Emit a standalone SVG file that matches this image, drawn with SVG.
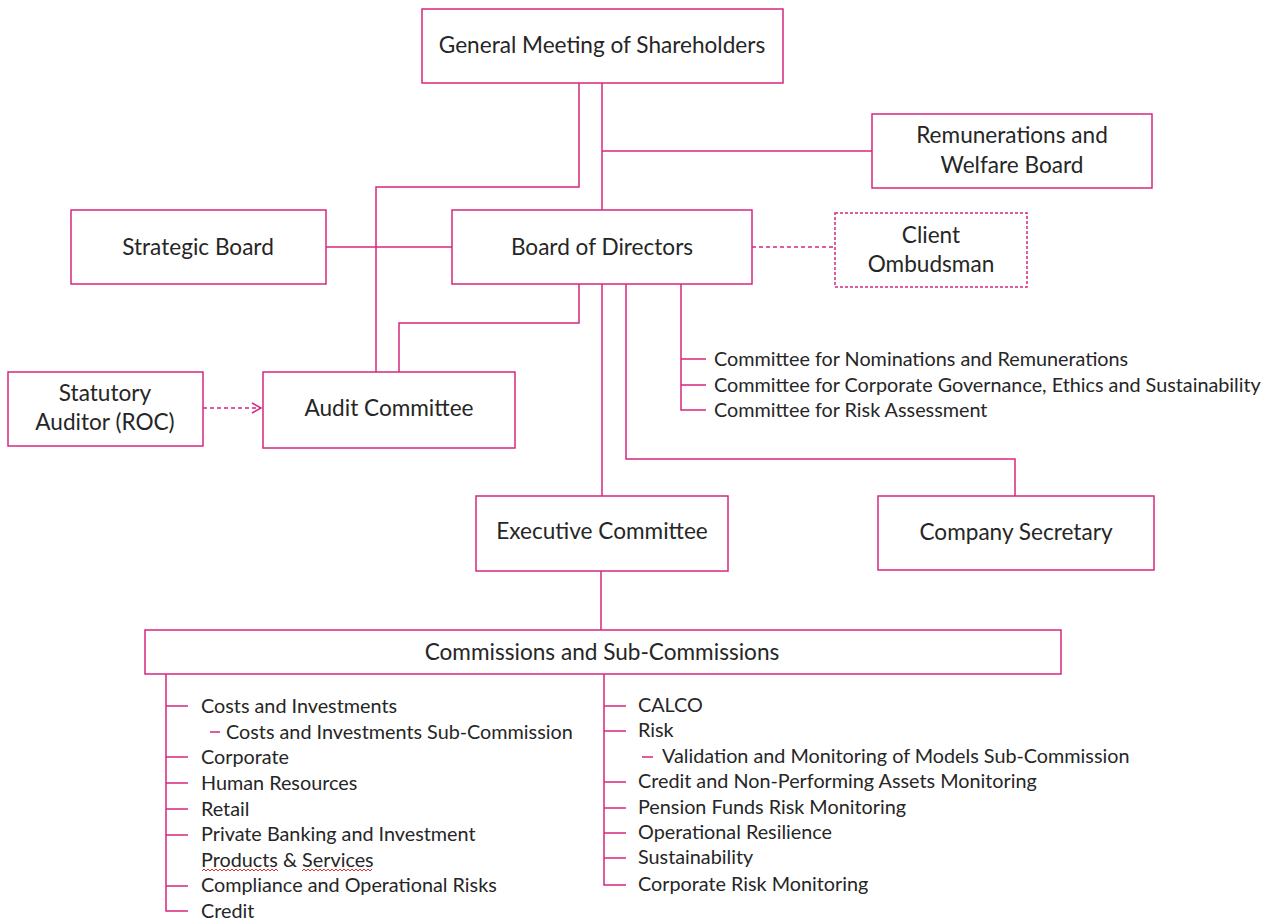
<svg xmlns="http://www.w3.org/2000/svg" width="1274" height="922" viewBox="0 0 1274 922">
<defs>
<style>
.box{fill:#fff;stroke:#d6287e;stroke-width:1.5}
.dash{fill:#fff;stroke:#d6287e;stroke-width:1.5;stroke-dasharray:3 2}
.ln{fill:none;stroke:#d6287e;stroke-width:1.5}
.dl{fill:none;stroke:#d6287e;stroke-width:1.5;stroke-dasharray:4 3}
.bt{font-family:Lato,"Liberation Sans",sans-serif;font-size:22.6px;fill:#262626;text-anchor:middle}
.lt{font-family:Lato,"Liberation Sans",sans-serif;font-size:19.8px;fill:#262626}
.sq{fill:none;stroke:#e03030;stroke-width:1}
</style>
<marker id="arr" markerWidth="12" markerHeight="12" refX="10" refY="6" orient="auto" markerUnits="userSpaceOnUse">
<path d="M1,1 L10,6 L1,11" fill="none" stroke="#d6287e" stroke-width="1.5"/>
</marker>
</defs>
<rect width="1274" height="922" fill="#fff"/>
<g id="connectors">
<path class="ln" d="M579,83 V187 H376 V372"/>
<path class="ln" d="M602,83 V210"/>
<path class="ln" d="M602,151 H872"/>
<path class="ln" d="M326,247 H452"/>
<path class="dl" d="M752,247 H835"/>
<path class="ln" d="M579,284 V323 H399 V372"/>
<path class="ln" d="M602,284 V496"/>
<path class="ln" d="M626,284 V459 H1015 V496"/>
<path class="ln" d="M681,284 V410 H706 M681,359 H706 M681,385 H706"/>
<path class="dl" d="M203,408 H261" marker-end="url(#arr)"/>
<path class="ln" d="M601,571 V630"/>
<path class="ln" d="M166,674 V911 H188 M166,706 H188 M166,757 H188 M166,783 H188 M166,809 H188 M166,835 H188 M166,886 H188"/>
<path class="ln" d="M604,674 V885 H626 M604,706 H626 M604,731 H626 M604,782 H626 M604,808 H626 M604,833 H626 M604,858 H626"/>
<path class="ln" d="M210,732 H220 M642,757 H653"/>
</g>
<g id="general-meeting"><rect class="box" x="422" y="9" width="361" height="74"/><text class="bt" x="602" y="53">General Meeting of Shareholders</text></g>
<g id="remunerations-board"><rect class="box" x="872" y="114" width="280" height="74"/><text class="bt" x="1012" y="143">Remunerations and</text><text class="bt" x="1012" y="173">Welfare Board</text></g>
<g id="strategic-board"><rect class="box" x="71" y="210" width="255" height="74"/><text class="bt" x="198" y="255">Strategic Board</text></g>
<g id="board-of-directors"><rect class="box" x="452" y="210" width="300" height="74"/><text class="bt" x="602" y="255">Board of Directors</text></g>
<g id="client-ombudsman"><rect class="dash" x="835" y="213" width="192" height="74"/><text class="bt" x="931" y="243">Client</text><text class="bt" x="931" y="272">Ombudsman</text></g>
<g id="committees">
<text class="lt" x="714" y="366">Committee for Nominations and Remunerations</text>
<text class="lt" x="714" y="392">Committee for Corporate Governance, Ethics and Sustainability</text>
<text class="lt" x="714" y="417">Committee for Risk Assessment</text>
</g>
<g id="statutory-auditor"><rect class="box" x="8" y="372" width="195" height="74"/><text class="bt" x="105" y="401">Statutory</text><text class="bt" x="105" y="430">Auditor (ROC)</text></g>
<g id="audit-committee"><rect class="box" x="263" y="372" width="252" height="76"/><text class="bt" x="389" y="416">Audit Committee</text></g>
<g id="executive-committee"><rect class="box" x="476" y="496" width="252" height="75"/><text class="bt" x="602" y="539">Executive Committee</text></g>
<g id="company-secretary"><rect class="box" x="878" y="496" width="276" height="74"/><text class="bt" x="1016" y="540">Company Secretary</text></g>
<g id="commissions"><rect class="box" x="145" y="630" width="916" height="44"/><text class="bt" x="602" y="660">Commissions and Sub-Commissions</text></g>
<g id="commissions-left">
<text class="lt" x="201" y="713">Costs and Investments</text>
<text class="lt" x="226" y="739">Costs and Investments Sub-Commission</text>
<text class="lt" x="201" y="764">Corporate</text>
<text class="lt" x="201" y="790">Human Resources</text>
<text class="lt" x="201" y="816">Retail</text>
<text class="lt" x="201" y="841">Private Banking and Investment</text>
<text class="lt" x="201" y="867">Products &amp; Services</text>
<text class="lt" x="201" y="892">Compliance and Operational Risks</text>
<text class="lt" x="201" y="918">Credit</text>
<path class="sq" d="M202,871 l2,-2 l2,2 l2,-2 l2,2 l2,-2 l2,2 l2,-2 l2,2 l2,-2 l2,2 l2,-2 l2,2 l2,-2 l2,2 l2,-2 l2,2 l2,-2 l2,2 l2,-2 l2,2 l2,-2 l2,2 l2,-2 l2,2 l2,-2 l2,2 l2,-2 l2,2 l2,-2 l2,2 l2,-2 l2,2 l2,-2 l2,2 l2,-2 l2,2 l2,-2 l2,2"/>
<path class="sq" d="M302,871 l2,-2 l2,2 l2,-2 l2,2 l2,-2 l2,2 l2,-2 l2,2 l2,-2 l2,2 l2,-2 l2,2 l2,-2 l2,2 l2,-2 l2,2 l2,-2 l2,2 l2,-2 l2,2 l2,-2 l2,2 l2,-2 l2,2 l2,-2 l2,2 l2,-2 l2,2 l2,-2 l2,2 l2,-2 l2,2 l2,-2 l2,2 l2,-2"/>
</g>
<g id="commissions-right">
<text class="lt" x="638" y="712">CALCO</text>
<text class="lt" x="638" y="737">Risk</text>
<text class="lt" x="662" y="763">Validation and Monitoring of Models Sub-Commission</text>
<text class="lt" x="638" y="788">Credit and Non-Performing Assets Monitoring</text>
<text class="lt" x="638" y="814">Pension Funds Risk Monitoring</text>
<text class="lt" x="638" y="839">Operational Resilience</text>
<text class="lt" x="638" y="864">Sustainability</text>
<text class="lt" x="638" y="891">Corporate Risk Monitoring</text>
</g>
</svg>
